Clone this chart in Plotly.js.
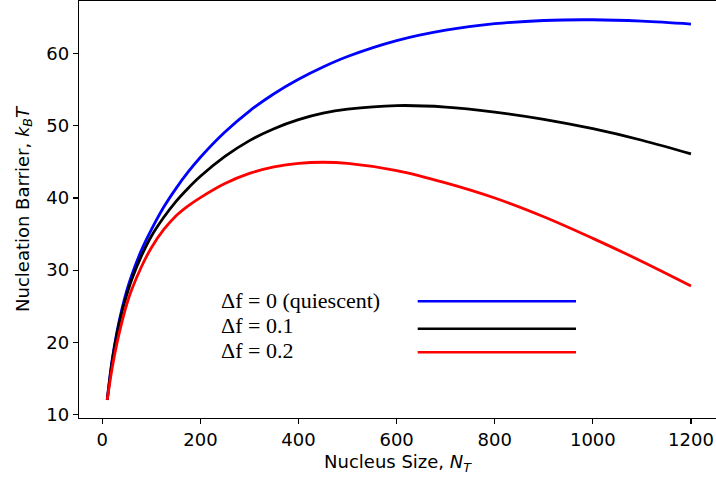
<!DOCTYPE html>
<html>
<head>
<meta charset="utf-8">
<script src="https://cdn.plot.ly/plotly-3.0.1.min.js"></script>
<style>html,body{margin:0;padding:0;overflow:hidden;background:#fff;}</style>
</head>
<body>
<div id="chart" style="width:716px;height:481px;"></div>
<script>
const nucleusSize = [10,20,30,40,50,60,80,100,125,150,175,200,250,300,350,400,450,500,600,700,800,900,1000,1100,1200];
const barrierDf0 = [12.0,17.5,21.5,24.6,27.2,29.3,32.8,35.6,38.7,41.3,43.6,45.65,49.15,52.05,54.45,56.45,58.15,59.6,61.8,63.25,64.15,64.6,64.7,64.5,64.1];
const barrierDf01 = [12.0,17.3,21.2,24.2,26.6,28.7,32.0,34.7,37.3,39.5,41.35,43.0,45.75,47.95,49.6,50.85,51.75,52.3,52.8,52.6,51.9,50.9,49.6,48.0,46.1];
const barrierDf02 = [12.0,16.4,19.9,22.8,25.3,27.3,30.5,33.1,35.6,37.5,38.9,40.05,42.0,43.4,44.3,44.8,44.95,44.8,43.8,42.1,40.0,37.4,34.4,31.2,27.8];
const seriesLabels = ["\u0394f = 0 (quiescent)", "\u0394f = 0.1", "\u0394f = 0.2"];
const seriesColors = ["#0000ff", "#000000", "#ff0000"];
const xTicks = [0,200,400,600,800,1000,1200];
const yTicks = [10,20,30,40,50,60];

const seriesValues = [barrierDf0, barrierDf01, barrierDf02];
const traces = seriesValues.map((vals, i) => ({
  x: nucleusSize, y: vals, type: 'scatter', mode: 'lines', name: seriesLabels[i],
  line: {color: seriesColors[i], width: 2.8, shape: 'spline', smoothing: 1.0},
  showlegend: false
}));

// custom legend: text on the left, line sample on the right
const legTextY = [0.2813, 0.2218, 0.1607];
const legLineY = [0.2799, 0.2141, 0.1576];
const annotations = seriesLabels.map((t, i) => ({
  text: t, xref: 'paper', yref: 'paper', x: 0.2200, y: legTextY[i],
  xanchor: 'left', yanchor: 'middle', showarrow: false,
  font: {family: 'Liberation Serif, Times New Roman, serif', size: 22, color: '#000'}
}));
const shapes = seriesColors.map((c, i) => ({
  type: 'line', xref: 'paper', yref: 'paper', x0: 0.5317, x1: 0.7802, y0: legLineY[i], y1: legLineY[i],
  line: {color: c, width: 2.6}
}));

const tickFont = {family: 'DejaVu Sans, sans-serif', size: 18, color: '#000'};
const layout = {
  width: 716, height: 481,
  margin: {l: 79, r: 0, t: 1, b: 63},
  paper_bgcolor: '#fff', plot_bgcolor: '#fff',
  showlegend: false,
  xaxis: {
    range: [-47.5, 1251], tickvals: xTicks, ticktext: xTicks.map(String),
    showgrid: false, zeroline: false, showline: true, mirror: true, linecolor: '#000', linewidth: 1.3,
    ticks: 'outside', ticklen: 5, tickwidth: 1.2, tickcolor: '#000', tickfont: tickFont,
    title: {text: 'Nucleus Size, <i>N<sub>T</sub></i>', font: tickFont, standoff: 6}
  },
  yaxis: {
    range: [9.5, 67.3], tickvals: yTicks, ticktext: yTicks.map(String),
    showgrid: false, zeroline: false, showline: true, linecolor: '#000', linewidth: 1.3,
    ticks: 'outside', ticklen: 5, tickwidth: 1.2, tickcolor: '#000', tickfont: tickFont,
    title: {text: 'Nucleation Barrier, <i>k<sub>B</sub>T</i>', font: tickFont, standoff: 12}
  },
  annotations: annotations,
  shapes: shapes
};
Plotly.newPlot('chart', traces, layout, {displayModeBar: false, staticPlot: true});
</script>
</body>
</html>
